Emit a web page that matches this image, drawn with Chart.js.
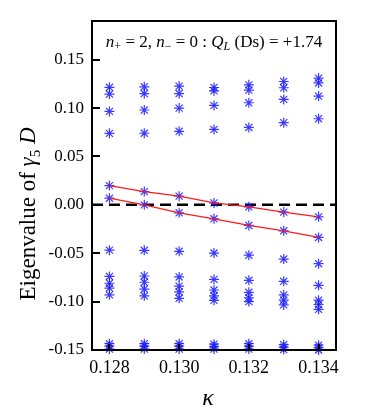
<!DOCTYPE html>
<html>
<head>
<meta charset="utf-8">
<script src="https://cdn.jsdelivr.net/npm/chart.js@4"></script>
<style>
html, body { margin: 0; padding: 0; background: #fff; }
</style>
</head>
<body>
<canvas id="eigChart" width="382" height="416"></canvas>
<script>
// hopping parameter values
const kappa = [0.128, 0.129, 0.130, 0.131, 0.132, 0.133, 0.134];

// eigenvalues of gamma5 D, grouped in bands
const top1 = [0.1215, 0.1220, 0.1227, 0.1213, 0.1240, 0.1275, 0.1310];
const top2 = [0.1145, 0.1150, 0.1150, 0.1178, 0.1186, 0.1210, 0.1260];
const mid1 = [0.0966, 0.0980, 0.1000, 0.1028, 0.1055, 0.1090, 0.1124];
const mid2 = [0.0739, 0.0740, 0.0760, 0.0780, 0.0800, 0.0849, 0.0890];

// the two near-zero modes (joined by red lines)
const modeUpper = [0.0199, 0.0137, 0.0090, 0.0020, -0.0020, -0.0075, -0.0124];
const modeLower = [0.0069, 0.0000, -0.0082, -0.0144, -0.0213, -0.0268, -0.0337];

const low1 = [-0.0468, -0.0470, -0.0480, -0.0498, -0.0520, -0.0560, -0.0608];
const low2 = [-0.0740, -0.0735, -0.0745, -0.0770, -0.0780, -0.0790, -0.0832];
const low3 = [-0.0810, -0.0800, -0.0840, -0.0880, -0.0904, -0.0930, -0.0985];
const low4 = [-0.0860, -0.0870, -0.0900, -0.0940, -0.0960, -0.0985, -0.1030];
const low5 = [-0.0930, -0.0940, -0.0966, -0.0987, -0.1000, -0.1034, -0.1080];

const bot1 = [-0.1435, -0.1435, -0.1435, -0.1440, -0.1435, -0.1445, -0.1450];
const bot2 = [-0.1460, -0.1460, -0.1460, -0.1465, -0.1460, -0.1470, -0.1475];
const bot3 = [-0.1490, -0.1490, -0.1490, -0.1490, -0.1490, -0.1495, -0.1500];

// axes
const xRange = [0.1275, 0.1345];
const yRange = [-0.15, 0.19];
const xTicks = [0.128, 0.130, 0.132, 0.134];
const yTicks = [-0.15, -0.10, -0.05, 0.00, 0.05, 0.10, 0.15];

const SERIF = '"Liberation Serif", "Times New Roman", serif';
const BLUE = 'rgba(25, 25, 255, 0.85)';

function fnt(size, italic) {
    return (italic ? 'italic ' : '') + size + 'px ' + SERIF;
}

function pts(vals) {
    return kappa.map((k, i) => ({ x: k, y: vals[i] }));
}

// draw a row of text pieces (for sub/superscripts), centred on x
function drawRuns(ctx, runs, x, y) {
    let w = 0;
    runs.forEach(r => { ctx.font = r.font; w += ctx.measureText(r.text).width; });
    let cx = x - w / 2;
    runs.forEach(r => {
        ctx.font = r.font;
        ctx.fillText(r.text, cx, y + (r.dy || 0));
        cx += ctx.measureText(r.text).width;
    });
}

const starSet = (vals) => ({
    data: pts(vals),
    pointStyle: 'star',
    pointRadius: 5,
    pointBorderWidth: 1.2,
    pointBorderColor: BLUE,
    pointBackgroundColor: BLUE,
    showLine: false,
    clip: false
});

const redLine = (vals) => ({
    data: pts(vals),
    showLine: true,
    borderColor: '#ff1a1a',
    borderWidth: 1.3,
    pointRadius: 0,
    tension: 0
});

const framePlugin = {
    id: 'frame',
    afterDraw(chart) {
        const ctx = chart.ctx;
        const a = chart.chartArea;
        const xs = chart.scales.x;
        const ys = chart.scales.y;
        ctx.save();
        ctx.strokeStyle = '#000';
        ctx.lineWidth = 2;
        ctx.strokeRect(a.left, a.top, a.right - a.left, a.bottom - a.top);

        // inward tick marks
        ctx.beginPath();
        yTicks.forEach(v => {
            const py = Math.round(ys.getPixelForValue(v));
            ctx.moveTo(a.left, py);
            ctx.lineTo(a.left + 8, py);
        });
        xTicks.forEach(v => {
            const px = Math.round(xs.getPixelForValue(v));
            ctx.moveTo(px, a.bottom);
            ctx.lineTo(px, a.bottom - 6);
        });
        ctx.stroke();

        ctx.fillStyle = '#000';
        ctx.textAlign = 'left';
        ctx.textBaseline = 'alphabetic';

        // label inside the plot
        drawRuns(ctx, [
            { text: 'n', font: fnt(17, true) },
            { text: '+', font: fnt(12), dy: 3 },
            { text: ' = 2, ', font: fnt(17) },
            { text: 'n', font: fnt(17, true) },
            { text: '\u2212', font: fnt(12), dy: 3 },
            { text: ' = 0 : ', font: fnt(17) },
            { text: 'Q', font: fnt(17, true) },
            { text: 'L', font: fnt(12, true), dy: 3 },
            { text: ' (Ds) = +1.74', font: fnt(17) }
        ], (a.left + a.right) / 2, 47);

        // x axis title
        drawRuns(ctx, [{ text: '\u03ba', font: fnt(24, true) }], (a.left + a.right) / 2 - 6, 405);

        // y axis title
        ctx.translate(35, 214);
        ctx.rotate(-Math.PI / 2);
        drawRuns(ctx, [
            { text: 'Eigenvalue of ', font: fnt(23) },
            { text: '\u03b3', font: fnt(23, true) },
            { text: '5', font: fnt(15), dy: 5 },
            { text: ' D', font: fnt(23, true) }
        ], 0, 0);
        ctx.restore();
    }
};

new Chart(document.getElementById('eigChart'), {
    type: 'scatter',
    data: {
        datasets: [
            redLine(modeUpper),
            redLine(modeLower),
            starSet(top1), starSet(top2), starSet(mid1), starSet(mid2),
            starSet(modeUpper), starSet(modeLower),
            starSet(low1), starSet(low2), starSet(low3), starSet(low4), starSet(low5),
            starSet(bot1), starSet(bot2), starSet(bot3),
            {
                // zero reference line
                type: 'line',
                data: [{ x: xRange[0], y: 0 }, { x: xRange[1], y: 0 }],
                borderColor: '#000',
                borderWidth: 2.5,
                borderDash: [11, 6],
                pointRadius: 0
            }
        ]
    },
    options: {
        responsive: false,
        animation: false,
        layout: { padding: { left: 0, right: 46, top: 21, bottom: 0 } },
        plugins: {
            legend: { display: false },
            tooltip: { enabled: false }
        },
        scales: {
            x: {
                type: 'linear',
                min: xRange[0],
                max: xRange[1],
                afterFit(scale) { scale.height = 66; },
                afterBuildTicks(scale) { scale.ticks = xTicks.map(v => ({ value: v })); },
                grid: { display: false, drawTicks: false },
                border: { display: false },
                ticks: {
                    padding: 7,
                    color: '#000',
                    font: { family: SERIF, size: 18 },
                    callback: v => v.toFixed(3)
                }
            },
            y: {
                type: 'linear',
                min: yRange[0],
                max: yRange[1],
                afterFit(scale) { scale.width = 92; },
                afterBuildTicks(scale) { scale.ticks = yTicks.map(v => ({ value: v })); },
                grid: { display: false, drawTicks: false },
                border: { display: false },
                ticks: {
                    padding: 8,
                    color: '#000',
                    font: { family: SERIF, size: 17 },
                    callback: v => (Math.abs(v) < 1e-9 ? 0 : v).toFixed(2)
                }
            }
        }
    },
    plugins: [framePlugin]
});
</script>
</body>
</html>
